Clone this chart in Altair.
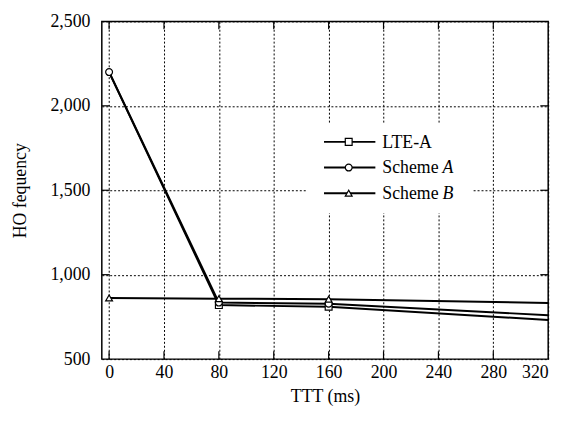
import altair as alt
import pandas as pd

# ---- data ----
ttt = [0, 80, 160, 320]
lte_a = [2200, 820, 810, 732]
scheme_a = [2200, 835, 828, 760]
scheme_b = [862, 858, 855, 833]
series_names = ["LTE-A", "Scheme A", "Scheme B"]
x_ticks = [0, 40, 80, 120, 160, 200, 240, 280, 320]
y_ticks = [500, 1000, 1500, 2000, 2500]

rows = []
for name, vals in zip(series_names, [lte_a, scheme_a, scheme_b]):
    for t, v in zip(ttt, vals):
        rows.append({"TTT": t, "HO": v, "series": name})
df = pd.DataFrame(rows)

W, H = 452, 342
FONT = "Liberation Serif"
FS = 18
MS = 48

xscale = alt.Scale(domain=[-5.3, 320], nice=False, zero=False)
yscale = alt.Scale(domain=[500, 2500], nice=False, zero=False)
shape_scale = alt.Scale(domain=series_names, range=["square", "circle", "triangle-up"])

x_axis = alt.Axis(values=x_ticks, format="d", title="TTT (ms)", labelPadding=5,
                  titlePadding=6, grid=True)
y_axis = alt.Axis(values=y_ticks, format=",d", title="HO fequency", labelPadding=12,
                  titlePadding=21, grid=True)

base = alt.Chart(df)

lines = base.mark_line(color="black", strokeWidth=2).encode(
    x=alt.X("TTT:Q", scale=xscale, axis=x_axis),
    y=alt.Y("HO:Q", scale=yscale, axis=y_axis),
    detail="series:N",
)

# markers at the measured points (the LTE-A square at 0 is hidden under the circle)
points = base.transform_filter(
    (alt.datum.TTT <= 160) & ((alt.datum.TTT > 0) | (alt.datum.series != "LTE-A"))
).mark_point(
    filled=True, fill="white", stroke="black", strokeWidth=1.2, size=MS, opacity=1
).encode(
    x=alt.X("TTT:Q", scale=xscale, axis=x_axis),
    y=alt.Y("HO:Q", scale=yscale, axis=y_axis),
    shape=alt.Shape("series:N", scale=shape_scale, legend=None),
)

# inward ticks on all four sides
xt = alt.Chart(pd.DataFrame({"t": x_ticks[:-1]}))
yt = alt.Chart(pd.DataFrame({"t": y_ticks[1:-1]}))
tick_b = xt.mark_rule(color="black", strokeWidth=1.2).encode(
    x=alt.X("t:Q", scale=xscale, axis=x_axis), y=alt.value(H), y2=alt.value(H - 8))
tick_t = xt.mark_rule(color="black", strokeWidth=1.2).encode(
    x=alt.X("t:Q", scale=xscale, axis=x_axis), y=alt.value(0), y2=alt.value(8))
tick_l = yt.mark_rule(color="black", strokeWidth=1.2).encode(
    y=alt.Y("t:Q", scale=yscale, axis=y_axis), x=alt.value(0), x2=alt.value(8))
tick_r = yt.mark_rule(color="black", strokeWidth=1.2).encode(
    y=alt.Y("t:Q", scale=yscale, axis=y_axis), x=alt.value(W), x2=alt.value(W - 8))

# custom legend (inside the plot)
one = alt.Chart(pd.DataFrame({"a": [0]}))
legend_layers = [
    one.mark_rect(fill="white").encode(
        x=alt.value(207), x2=alt.value(375), y=alt.value(104), y2=alt.value(194))
]
shapes = ["square", "circle", "triangle-up"]
for i, name in enumerate(series_names):
    yy = 122 + 26 * i
    legend_layers.append(one.mark_rule(color="black", strokeWidth=2).encode(
        x=alt.value(225), x2=alt.value(277), y=alt.value(yy)))
    legend_layers.append(one.mark_point(
        shape=shapes[i], filled=True, fill="white", stroke="black", strokeWidth=1.2,
        size=MS, opacity=1).encode(x=alt.value(250), y=alt.value(yy)))
    parts = name.split(" ")
    legend_layers.append(one.mark_text(
        text=parts[0], font=FONT, fontSize=FS, align="left", baseline="middle",
        color="black").encode(x=alt.value(284), y=alt.value(yy + 1)))
    if len(parts) > 1:
        legend_layers.append(one.mark_text(
            text=parts[1], font=FONT, fontSize=FS, fontStyle="italic", align="left",
            baseline="middle", color="black").encode(x=alt.value(345), y=alt.value(yy + 1)))

chart = alt.layer(
    lines, points, tick_b, tick_t, tick_l, tick_r, *legend_layers
).properties(
    width=W, height=H,
    padding={"left": 95, "top": 11, "right": 15, "bottom": 52},
    autosize="none",
    background="white",
).configure_view(
    stroke="black", strokeWidth=1.5
).configure_axis(
    labelFont=FONT, labelFontSize=FS, labelColor="black",
    titleFont=FONT, titleFontSize=FS, titleFontWeight="normal", titleColor="black",
    ticks=False, domain=False,
    gridColor="black", gridDash=[2, 2], gridWidth=1, gridOpacity=1,
)

chart.save("out.html", embed_options={"renderer": "svg", "actions": False})
